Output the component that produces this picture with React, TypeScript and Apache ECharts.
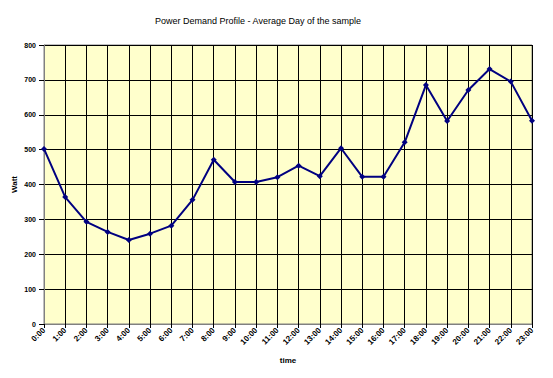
import React, { useEffect, useRef } from "react";
import * as echarts from "echarts";

const hours = ["0:00","1:00","2:00","3:00","4:00","5:00","6:00","7:00","8:00","9:00","10:00","11:00","12:00","13:00","14:00","15:00","16:00","17:00","18:00","19:00","20:00","21:00","22:00","23:00"];
const watts = [502,364,293,264,241,259,282,356,471,407,407,421,454,424,504,422,422,521,685,582,671,731,695,583];
const titleText = "Power Demand Profile - Average Day of the sample";
const yName = "Watt";
const xName = "time";

export default function App() {
  const ref = useRef<HTMLDivElement>(null);
  useEffect(() => {
    if (!ref.current) return;
    const chart = echarts.init(ref.current, null, { renderer: "svg" });
    const font = "'Liberation Sans', Arial, sans-serif";
    chart.setOption({
      animation: false,
      backgroundColor: "#ffffff",
      title: {
        text: titleText,
        left: 150,
        top: 11,
        textStyle: { fontSize: 9, fontWeight: "normal", color: "#000", fontFamily: font },
      },
      grid: {
        left: 44,
        right: 21,
        top: 45,
        bottom: 54,
        show: true,
        backgroundColor: "#FFFFCC",
        borderColor: "#808080",
        borderWidth: 1,
      },
      xAxis: {
        type: "category",
        data: hours,
        boundaryGap: false,
        name: xName,
        nameLocation: "middle",
        nameGap: 32,
        nameTextStyle: { fontSize: 8, fontWeight: "bold", color: "#000", fontFamily: font },
        axisLine: { lineStyle: { color: "#808080", width: 1 } },
        axisTick: { show: true, length: 4, lineStyle: { color: "#000" } },
        axisLabel: { rotate: 45, fontSize: 8, fontWeight: "bold", color: "#000", fontFamily: font, margin: 5, interval: 0 },
        splitLine: { show: true, lineStyle: { color: "#000", width: 1 } },
      },
      yAxis: {
        type: "value",
        min: 0,
        max: 800,
        interval: 100,
        name: yName,
        nameLocation: "middle",
        nameGap: 26,
        nameRotate: 90,
        nameMoveOverlap: false,
        nameTextStyle: { fontSize: 8, fontWeight: "bold", color: "#000", fontFamily: font },
        axisLine: { show: true, lineStyle: { color: "#808080", width: 1 } },
        axisTick: { show: true, length: 5, lineStyle: { color: "#000" } },
        axisLabel: { fontSize: 7, fontWeight: "bold", color: "#000", fontFamily: font, margin: 8 },
        splitLine: { show: true, lineStyle: { color: "#000", width: 1 } },
      },
      series: [
        {
          type: "line",
          data: watts,
          symbol: "diamond",
          symbolSize: 6,
          lineStyle: { color: "#000080", width: 2 },
          itemStyle: { color: "#000080" },
        },
      ],
    });
    return () => chart.dispose();
  }, []);
  return <div ref={ref} style={{ position: "fixed", left: 0, top: 0, width: 553, height: 378 }} />;
}
